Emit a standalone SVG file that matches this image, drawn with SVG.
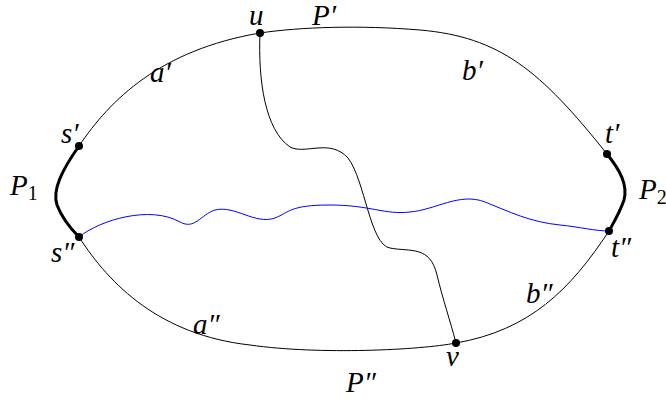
<svg xmlns="http://www.w3.org/2000/svg" width="666" height="400" viewBox="0 0 666 400">
<style>
.e{fill:none;stroke:#000;stroke-width:1}
.thick{fill:none;stroke:#000;stroke-width:3}
.blue{fill:none;stroke:#0000ff;stroke-width:1}
.dot{fill:#000}
text{font-family:"Liberation Serif";font-style:italic;font-size:29px;fill:#000}
</style>
<rect width="666" height="400" fill="#fff"/>
<g id="connectors">
<path id="Pprime" class="e" d="M79,146 C110,100 160,50 260,33 C300,27 360,25 420,30 C500,37 540,70 607,154"/>
<path id="Pdprime" class="e" d="M79,237 C110,285 160,335 250,345 C320,355 420,350 456,343 C530,330 570,290 609,231"/>
<path id="P1" class="thick" d="M79,146 C62,170 52,190 57,205 C62,218 70,228 79,237"/>
<path id="P2" class="thick" d="M607,154 C620,170 628,185 624,200 C620,212 614,222 609,231"/>
<path id="uv" class="e" d="M260,33 C258,80 265,130 290,147 C305,155 330,138 348,158 C365,180 370,245 390,248 C410,252 430,245 437,275 C443,300 450,320 456,343"/>
<path id="blue" class="blue" d="M79,237 C100,220 150,205 180,222 C195,230 200,215 215,210 C235,205 255,225 275,218 C290,212 290,205 330,205 C370,205 385,215 410,212 C435,210 460,192 485,202 C510,212 530,222 560,225 C580,227 595,231 609,231"/>
</g>
<g id="s1"><circle class="dot" cx="79" cy="146" r="4"/><text x="61" y="143">s′</text></g>
<g id="s2"><circle class="dot" cx="79" cy="237" r="4"/><text x="51" y="262">s″</text></g>
<g id="t1"><circle class="dot" cx="607" cy="154" r="4"/><text x="605" y="143">t′</text></g>
<g id="t2"><circle class="dot" cx="609" cy="231" r="4"/><text x="611" y="257">t″</text></g>
<g id="u"><circle class="dot" cx="260" cy="33" r="4"/><text x="249" y="25">u</text></g>
<g id="v"><circle class="dot" cx="456" cy="343" r="4"/><text x="446" y="366">v</text></g>
<g id="labels">
<text x="10" y="195">P<tspan font-style="normal" font-size="20" dy="5">1</tspan></text>
<text x="639" y="199">P<tspan font-style="normal" font-size="20" dy="5">2</tspan></text>
<text x="312" y="25">P′</text>
<text x="346" y="392">P″</text>
<text x="150" y="82">a′</text>
<text x="462" y="80">b′</text>
<text x="193" y="334">a″</text>
<text x="526" y="303">b″</text>
</g>
</svg>
